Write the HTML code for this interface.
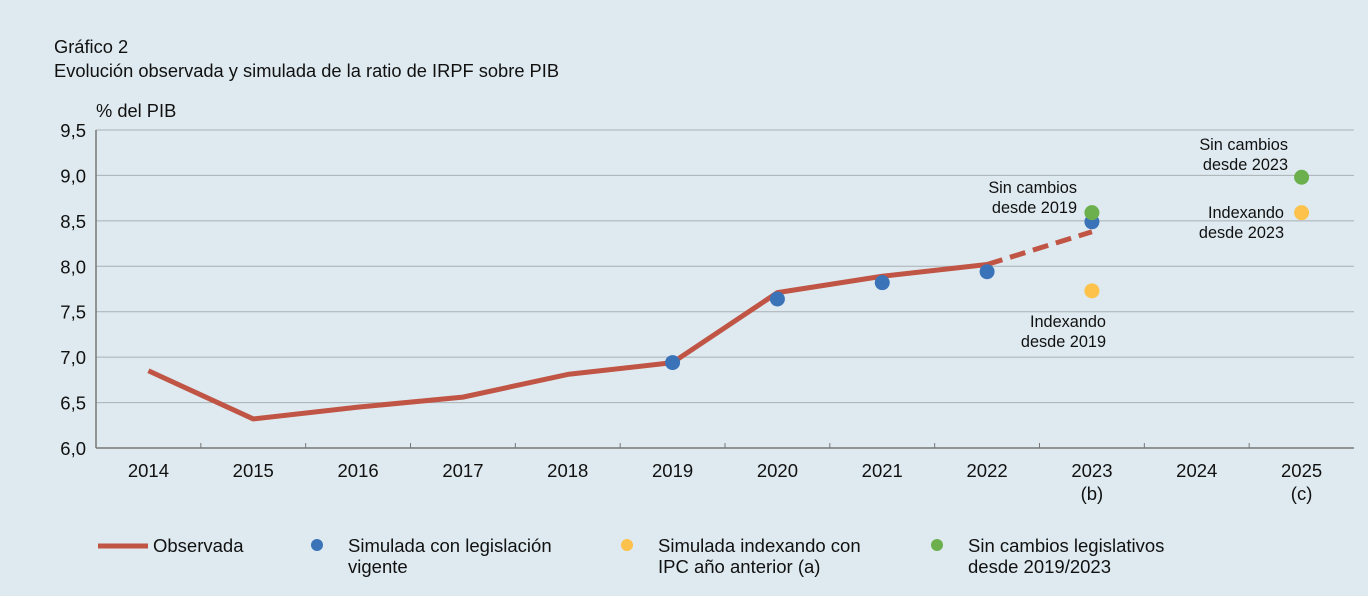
<!DOCTYPE html>
<html><head><meta charset="utf-8"><style>
body{margin:0;background:#deeaf0;font-family:"Liberation Sans",sans-serif;}
svg{display:block}
text{fill:#111}
</style></head><body>
<svg width="1368" height="596" id="c">
<rect width="1368" height="596" fill="#deeaf0"/>
<text x="54" y="53" font-size="18.3">Gráfico 2</text>
<text x="54" y="77" font-size="18.3">Evolución observada y simulada de la ratio de IRPF sobre PIB</text>
<text x="96" y="117" font-size="18.3">% del PIB</text>
<g id="grid"></g><g id="marks"></g>
<g font-size="18.5">
<line x1="98" y1="546" x2="148" y2="546" stroke="#c05545" stroke-width="5"/>
<text x="153" y="552">Observada</text>
<circle cx="317" cy="545" r="6" fill="#3b73b9"/>
<text x="348" y="552"><tspan x="348">Simulada con legislación</tspan><tspan x="348" dy="21">vigente</tspan></text>
<circle cx="627" cy="545" r="6" fill="#fcc24b"/>
<text x="658" y="552"><tspan x="658">Simulada indexando con</tspan><tspan x="658" dy="21">IPC año anterior (a)</tspan></text>
<circle cx="937" cy="545" r="6" fill="#6cb04d"/>
<text x="968" y="552"><tspan x="968">Sin cambios legislativos</tspan><tspan x="968" dy="21">desde 2019/2023</tspan></text>
</g>
</svg>
<script>
const years=["2014","2015","2016","2017","2018","2019","2020","2021","2022","2023","2024","2025"];
const subLabels=["","","","","","","","","","(b)","","(c)"];
const yTicks=[6.0,6.5,7.0,7.5,8.0,8.5,9.0,9.5];
const observed=[6.85,6.32,6.45,6.56,6.81,6.94,7.71,7.89,8.02,null,null,null];
const observedProj=[null,null,null,null,null,null,null,null,8.02,8.38,null,null];
const vigente=[null,null,null,null,null,6.94,7.64,7.82,7.94,8.49,null,null];
const indexando=[null,null,null,null,null,null,null,null,null,7.73,null,8.59];
const sinCambios=[null,null,null,null,null,null,null,null,null,8.59,null,8.98];
const NS="http://www.w3.org/2000/svg";
const L=96,R=1354,T=130,B=448,bw=(R-L)/years.length;
const xs=i=>L+bw*(i+0.5);
const ys=v=>B-(v-6)/3.5*(B-T);
function mk(tag,attrs,parent,txt){const e=document.createElementNS(NS,tag);for(const k in attrs)e.setAttribute(k,attrs[k]);if(txt!=null)e.textContent=txt;parent.appendChild(e);return e;}
const g=document.getElementById('grid'),m=document.getElementById('marks');
yTicks.forEach(v=>{
 if(v>6){const l=mk('line',{x1:L,x2:R,y1:ys(v),y2:ys(v),stroke:'#a9b0b4','stroke-width':1},g);
 
 }
 const t=mk('text',{x:L-10,y:ys(v)+7,'text-anchor':'end','font-size':18.5},g,v.toFixed(1).replace('.',','));
 
 
});
mk('line',{x1:L,x2:L,y1:T,y2:B,stroke:'#777','stroke-width':1.5},g);
mk('line',{x1:L,x2:R,y1:B,y2:B,stroke:'#777','stroke-width':1.5},g);
years.forEach((y,i)=>{
 if(i>0)mk('line',{x1:L+bw*i,x2:L+bw*i,y1:B,y2:B-5,stroke:'#777'},g);
 const t=mk('text',{x:xs(i),y:477,'text-anchor':'middle','font-size':18.5},g,y);
 
 
 if(subLabels[i]){const s=mk('text',{x:xs(i),y:500,'text-anchor':'middle','font-size':18.5},g,subLabels[i]);
 
 }
});
function path(arr){let d='';arr.forEach((v,i)=>{if(v!=null)d+=(d?'L':'M')+xs(i)+' '+ys(v);});return d;}
const p1=mk('path',{d:path(observed),fill:'none',stroke:'#c05545','stroke-width':5,'stroke-linejoin':'round'},m);


const p2=mk('path',{d:path(observedProj),fill:'none',stroke:'#c05545','stroke-width':5,'stroke-dasharray':'16 8'},m);


[[vigente,'#3b73b9','vigente-point'],[indexando,'#fcc24b','indexando-point'],[sinCambios,'#6cb04d','sin-cambios-point']].forEach(([arr,c,n])=>{
 arr.forEach((v,i)=>{if(v==null)return;const ci=mk('circle',{cx:xs(i),cy:ys(v),r:7.5,fill:c},m);
 
 });
});
function ann(x,y,lines,anchor,name){const t=mk('text',{x:x,y:y,'text-anchor':anchor,'font-size':16.3},m);
 
 
 lines.forEach((s,k)=>mk('tspan',{x:x,dy:k?20:0},t,s));}
ann(1077,193,['Sin cambios','desde 2019'],'end','annotation-sin-cambios-2019');
ann(1106,327,['Indexando','desde 2019'],'end','annotation-indexando-2019');
ann(1288,150,['Sin cambios','desde 2023'],'end','annotation-sin-cambios-2023');
ann(1284,218,['Indexando','desde 2023'],'end','annotation-indexando-2023');
</script>
</body></html>
